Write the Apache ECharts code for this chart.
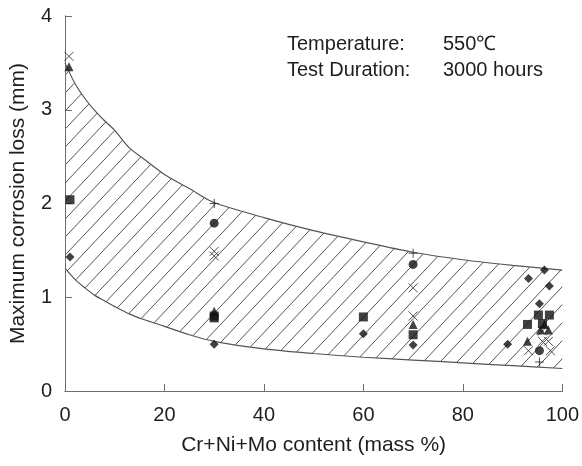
<!DOCTYPE html>
<html>
<head>
<meta charset="utf-8">
<script src="https://cdn.jsdelivr.net/npm/echarts@6/dist/echarts.min.js"></script>
<style>
html, body { margin: 0; padding: 0; background: #fff; }
#chart { width: 582px; height: 466px; }
</style>
</head>
<body>
<div id="chart"></div>
<script>
// band boundaries
var bandX  = [0, 2, 4, 6, 8, 10, 13, 16, 20, 25, 30, 40, 50, 60, 70, 80, 90, 100];
var upperY = [3.50, 3.28, 3.12, 2.99, 2.88, 2.78, 2.59, 2.47, 2.31, 2.16, 2.01, 1.85, 1.71, 1.59, 1.48, 1.40, 1.34, 1.29];
var lowerY = [1.31, 1.19, 1.10, 1.02, 0.96, 0.90, 0.82, 0.76, 0.69, 0.60, 0.53, 0.45, 0.40, 0.36, 0.33, 0.30, 0.27, 0.24];

// measured points, one list per marker
var squarePts   = [[1, 2.04], [30, 0.80], [30, 0.78], [60, 0.79], [70, 0.60], [93, 0.71], [95.2, 0.81], [97.4, 0.81], [96, 0.72]];
var diamondPts  = [[1, 1.43], [30, 0.50], [60, 0.61], [70, 0.49], [89, 0.50], [93.2, 1.20], [96.4, 1.29], [97.4, 1.12], [95.4, 0.93]];
var circlePts   = [[30, 1.79], [70, 1.35], [95.4, 0.43]];
var trianglePts = [[0.8, 3.46], [30, 0.85], [70, 0.71], [93, 0.53], [95.6, 0.65], [97.2, 0.65], [96.4, 0.71]];
var crossPts    = [[0.8, 3.57], [30, 1.49], [30, 1.44], [70, 1.10], [70, 0.80], [96, 0.64], [96, 0.53], [97.2, 0.53], [93.2, 0.43], [97.6, 0.43]];
var plusPts     = [[30, 2.00], [70, 1.47], [95.4, 0.31]];

var xTicks = [0, 20, 40, 60, 80, 100];
var yTicks = [0, 1, 2, 3, 4];

var font = '"Liberation Sans", Arial, sans-serif';
var ink = '#1e1e1e';
var frame = '#6e6e6e';

// hatch pattern
var tw = 17, th = 18;
var tile = document.createElement('canvas');
tile.width = tw;
tile.height = th;
var ctx = tile.getContext('2d');
ctx.strokeStyle = '#555';
ctx.lineWidth = 1;
ctx.beginPath();
ctx.moveTo(-tw, 2 * th); ctx.lineTo(2 * tw, -th);
ctx.moveTo(-tw, th); ctx.lineTo(tw, -th);
ctx.moveTo(0, 2 * th); ctx.lineTo(2 * tw, 0);
ctx.stroke();

function pts(ys) {
	return bandX.map(function (x, i) { return [x, ys[i]]; });
}

function markerSeries(data, symbol, size, hollow) {
	return {
		type: 'scatter',
		data: data,
		symbol: symbol,
		symbolSize: size,
		z: 5,
		silent: true,
		itemStyle: hollow ? { color: 'rgba(0,0,0,0)', borderColor: '#222', borderWidth: 1 } : { color: '#111' }
	};
}

var chart = echarts.init(document.getElementById('chart'));
var option = {
	animation: false,
	backgroundColor: '#fff',
	grid: { left: 65, right: 18, top: 16, bottom: 75 },
	xAxis: [{
		type: 'value',
		z: 4,
		min: xTicks[0],
		max: xTicks[xTicks.length - 1],
		interval: xTicks[1] - xTicks[0],
		name: 'Cr+Ni+Mo content (mass %)',
		nameLocation: 'middle',
		nameGap: 44,
		nameTextStyle: { fontFamily: font, fontSize: 21, color: ink },
		axisLine: { lineStyle: { color: frame, width: 1 } },
		axisTick: { inside: true, length: 7, lineStyle: { color: frame } },
		axisLabel: { margin: 14, fontFamily: font, fontSize: 20, color: ink },
		splitLine: { show: false }
	}, {
		type: 'value',
		z: 4,
		position: 'top',
		min: xTicks[0],
		max: xTicks[xTicks.length - 1],
		axisLine: { show: true, lineStyle: { color: frame, width: 1 } },
		axisTick: { show: false },
		axisLabel: { show: false },
		splitLine: { show: false }
	}],
	yAxis: [{
		type: 'value',
		z: 4,
		min: yTicks[0],
		max: yTicks[yTicks.length - 1],
		interval: yTicks[1] - yTicks[0],
		name: 'Maximum corrosion loss (mm)',
		nameLocation: 'middle',
		nameGap: 36,
		nameTextStyle: { fontFamily: font, fontSize: 21, color: ink },
		axisLine: { show: true, lineStyle: { color: frame, width: 1 } },
		axisTick: { show: true, inside: true, length: 7, lineStyle: { color: frame } },
		axisLabel: { margin: 13, fontFamily: font, fontSize: 20, color: ink },
		splitLine: { show: false }
	}, {
		type: 'value',
		z: 4,
		position: 'right',
		min: yTicks[0],
		max: yTicks[yTicks.length - 1],
		axisLine: { show: true, lineStyle: { color: frame, width: 1 } },
		axisTick: { show: false },
		axisLabel: { show: false },
		splitLine: { show: false }
	}],
	graphic: [
		{ type: 'text', left: 287, top: 34, style: { text: 'Temperature:', fontFamily: font, fontSize: 20, fill: ink } },
		{ type: 'text', left: 443, top: 34, style: { text: '550℃', fontFamily: font, fontSize: 20, fill: ink } },
		{ type: 'text', left: 287, top: 60, style: { text: 'Test Duration:', fontFamily: font, fontSize: 20, fill: ink } },
		{ type: 'text', left: 443, top: 60, style: { text: '3000 hours', fontFamily: font, fontSize: 20, fill: ink } }
	],
	series: [
		// hatched fill under the upper curve
		{
			type: 'line', data: pts(upperY), smooth: 0.3, z: 1,
			symbol: 'none', silent: true, lineStyle: { opacity: 0 },
			areaStyle: { color: { image: tile, repeat: 'repeat' }, opacity: 1, origin: 'start' }
		},
		// white fill under the lower curve clears the hatch there
		{
			type: 'line', data: pts(lowerY), smooth: 0.3, z: 2,
			symbol: 'none', silent: true, lineStyle: { opacity: 0 },
			areaStyle: { color: '#fff', opacity: 1, origin: 'start' }
		},
		{
			type: 'line', data: pts(upperY), smooth: 0.3, symbol: 'none', silent: true, z: 3,
			lineStyle: { color: '#555', width: 1.2 }
		},
		{
			type: 'line', data: pts(lowerY), smooth: 0.3, symbol: 'none', silent: true, z: 3,
			lineStyle: { color: '#555', width: 1.2 }
		},
		markerSeries(squarePts, 'rect', 9),
		markerSeries(diamondPts, 'diamond', 9),
		markerSeries(circlePts, 'circle', 9),
		markerSeries(trianglePts, 'triangle', 9),
		markerSeries(crossPts, 'path://M0,0L10,10M10,0L0,10', 9, true),
		markerSeries(plusPts, 'path://M5,0L5,10M0,5L10,5', 9, true)
	]
};
chart.setOption(option);
</script>
</body>
</html>
